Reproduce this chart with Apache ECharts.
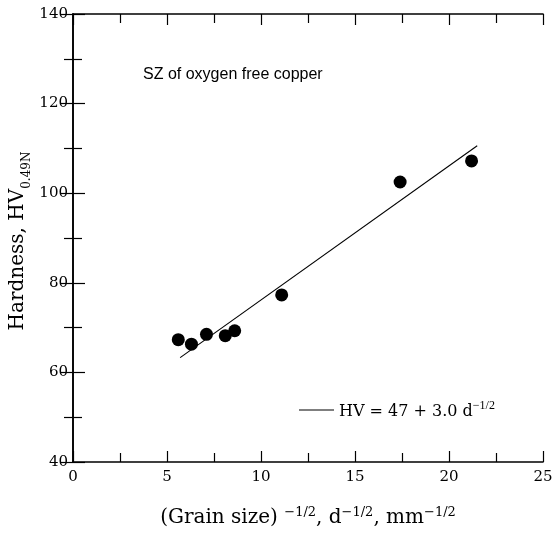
<!DOCTYPE html>
<html>
<head>
<meta charset="utf-8">
<script src="https://cdn.jsdelivr.net/npm/echarts@6/dist/echarts.min.js"></script>
<style>html,body{margin:0;padding:0;background:#fff}#c{width:555px;height:536px}</style>
</head>
<body>
<div id="c"></div>
<script>
// Data
const grainX = [5.6, 6.3, 7.1, 8.1, 8.6, 11.1, 17.4, 21.2];
const hardnessY = [67.3, 66.3, 68.5, 68.2, 69.3, 77.3, 102.5, 107.2];
const fitX = [5.7, 21.5];
const fitY = [63.3, 110.6];
const xTicks = [0, 5, 10, 15, 20, 25];
const yTicks = [40, 60, 80, 100, 120, 140];
const annotation = 'SZ of oxygen free copper';
const fitName = 'HV = 47 + 3.0 d';
const yTitle = '{b|Hardness, HV}{s|0.49N}';

const serif = 'DejaVu Serif';
const chart = echarts.init(document.getElementById('c'));
const axisLine = {show: true, lineStyle: {color: '#000', width: 1.6}};
const xBase = {type: 'value', min: xTicks[0], max: xTicks[xTicks.length - 1], interval: 5,
  axisLine: axisLine, splitLine: {show: false},
  axisTick: {show: true, inside: true, length: 11, lineStyle: {color: '#000', width: 1.2}},
  minorTick: {show: true, splitNumber: 2, length: 9, lineStyle: {color: '#000', width: 1.2}}};
const yBase = {type: 'value', min: yTicks[0], max: yTicks[yTicks.length - 1], interval: 20,
  axisLine: axisLine, splitLine: {show: false},
  axisTick: {show: true, inside: true, length: 12, lineStyle: {color: '#000', width: 1.2}},
  minorTick: {show: true, splitNumber: 2, length: 9, lineStyle: {color: '#000', width: 1.2}}};

chart.setOption({
  animation: false,
  backgroundColor: '#fff',
  grid: {left: 73, right: 12, top: 14, bottom: 74, containLabel: false, outerBoundsMode: 'none'},
  xAxis: [
    Object.assign({}, xBase, {position: 'bottom',
      axisLabel: {show: true, color: '#000', fontFamily: serif, fontSize: 15, margin: 8},
      name: '{b|(Grain size) }{s|−1/2}{b|, d}{s|−1/2}{b|, mm}{s|−1/2}',
      nameLocation: 'middle', nameGap: 44,
      nameTextStyle: {rich: {
        b: {fontFamily: serif, fontSize: 20, color: '#000', lineHeight: 22, verticalAlign: 'bottom'},
        s: {fontFamily: serif, fontSize: 13, color: '#000', lineHeight: 22, verticalAlign: 'top'}}}}),
    Object.assign({}, xBase, {position: 'top', axisLabel: {show: false}})
  ],
  yAxis: [
    Object.assign({}, yBase, {position: 'left',
      axisLabel: {show: true, color: '#000', fontFamily: serif, fontSize: 15, margin: 5}}),
    Object.assign({}, yBase, {position: 'right', axisLabel: {show: false}})
  ],
  legend: {
    data: [{name: fitName, icon: 'rect'}], left: 299, top: 400, padding: 0,
    itemWidth: 35, itemHeight: 1.2, itemGap: 0,
    formatter: function (n) { return '{b|' + n + '}{s|−1/2}'; },
    textStyle: {rich: {
      b: {fontFamily: serif, fontSize: 16, color: '#000', lineHeight: 20, verticalAlign: 'bottom'},
      s: {fontFamily: 'Liberation Serif', fontSize: 12, color: '#000', lineHeight: 20, verticalAlign: 'top'}}}
  },
  graphic: [
    {type: 'text', left: 143, top: 67,
      style: {text: annotation, font: '16px "Liberation Sans"', fill: '#000'}},
    {type: 'text', x: 20, y: 241, rotation: Math.PI / 2,
      style: {text: yTitle, align: 'center', verticalAlign: 'middle', fill: '#000',
        rich: {
          b: {fontFamily: serif, fontSize: 20, fill: '#000', lineHeight: 25, verticalAlign: 'top'},
          s: {fontFamily: serif, fontSize: 12, fill: '#000', lineHeight: 25, verticalAlign: 'bottom'}}}}
  ],
  series: [
    {name: 'points', type: 'scatter', xAxisIndex: 0, yAxisIndex: 0,
      data: grainX.map((x, i) => [x, hardnessY[i]]),
      symbol: 'circle', symbolSize: 13, itemStyle: {color: '#000', opacity: 1}},
    {name: fitName, type: 'line', xAxisIndex: 0, yAxisIndex: 0,
      data: fitX.map((x, i) => [x, fitY[i]]),
      symbol: 'none', lineStyle: {color: '#000', width: 1.1}, itemStyle: {color: '#000'}}
  ]
});
</script>
</body>
</html>
